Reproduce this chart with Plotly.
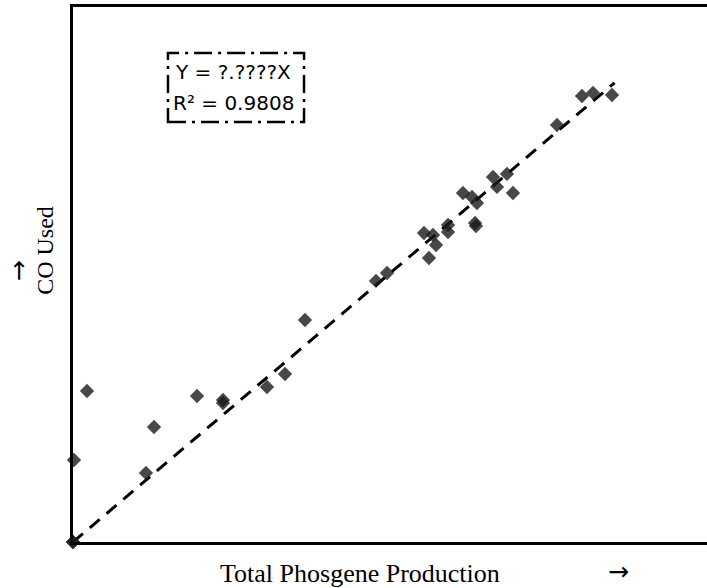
import numpy as np
import plotly.graph_objects as go

# Total phosgene production (x) vs CO used (y), arbitrary units
phosgene = [0.0, 0.0, 0.16, 2.21, 11.51, 12.78, 19.56, 23.66, 23.66, 30.60, 33.44,
            36.59, 47.79, 49.53, 55.36, 56.15, 56.78, 57.26, 59.15, 59.15, 61.51,
            62.93, 63.72, 63.41, 63.56, 66.25, 66.88, 68.45, 69.40, 76.34, 80.28,
            82.02, 85.02]
co_used = [0.0, 0.0, 15.33, 28.22, 12.90, 21.50, 27.29, 26.54, 25.98, 28.97, 31.40,
           41.50, 48.79, 50.28, 57.76, 53.08, 57.38, 55.51, 59.25, 57.94, 65.23,
           64.49, 63.36, 59.63, 59.07, 68.22, 66.36, 68.79, 65.23, 77.94, 83.36,
           83.93, 83.55]

eq_text = "Y = ?.????X"
r2_text = "R² = 0.9808"

x = np.array(phosgene)
y = np.array(co_used)
# least-squares slope of a line through the origin
slope = float((x * y).sum() / (x * x).sum())
line_x = [0.0, x.max() + 0.4]
line_y = [slope * v for v in line_x]

fig = go.Figure()
fig.add_trace(go.Scatter(
    x=line_x, y=line_y, mode="lines",
    line=dict(color="black", width=3, dash="13px,9px"),
    hoverinfo="skip", showlegend=False, cliponaxis=False,
))
fig.add_trace(go.Scatter(
    x=phosgene, y=co_used, mode="markers",
    marker=dict(symbol="diamond", size=11, color="#1a1a1a", opacity=0.8,
                line=dict(width=0)),
    showlegend=False, cliponaxis=False,
))

serif = "Liberation Serif"
arrow_font = "DejaVu Sans"
label_font = "DejaVu Sans"

fig.update_layout(
    width=707, height=588,
    margin=dict(l=73, r=0, t=7, b=46),
    paper_bgcolor="white", plot_bgcolor="white",
    xaxis=dict(range=[0, 100], showgrid=False, zeroline=False, showticklabels=False,
               ticks="", showline=True, linecolor="black", linewidth=3, mirror=True),
    yaxis=dict(range=[0, 100], showgrid=False, zeroline=False, showticklabels=False,
               ticks="", showline=True, linecolor="black", linewidth=3, mirror=False),
    shapes=[dict(type="rect", xref="paper", yref="paper",
                 x0=0.1498, x1=0.3644, y0=0.785, y1=0.914,
                 line=dict(color="black", width=2.5, dash="18px,6px,3px,6px"))],
    annotations=[
        dict(text=eq_text, xref="paper", yref="paper", x=0.158, y=0.8785,
             xanchor="left", yanchor="middle", showarrow=False,
             font=dict(family=label_font, size=20, color="black")),
        dict(text=r2_text, xref="paper", yref="paper", x=0.154, y=0.8206,
             xanchor="left", yanchor="middle", showarrow=False,
             font=dict(family=label_font, size=20, color="black")),
        dict(text="Total Phosgene Production", xref="paper", yref="paper",
             x=0.4530, y=-0.058, xanchor="center", yanchor="middle", showarrow=False,
             font=dict(family=serif, size=26, color="black")),
        dict(text="→", xref="paper", yref="paper",
             x=0.8600, y=-0.056, xanchor="center", yanchor="middle", showarrow=False,
             font=dict(family=arrow_font, size=25, color="black")),
        dict(text="CO Used", xref="paper", yref="paper", textangle=-90,
             x=-0.0442, y=0.546, xanchor="center", yanchor="middle", showarrow=False,
             font=dict(family=serif, size=24, color="black")),
        dict(text="→", xref="paper", yref="paper", textangle=-90,
             x=-0.0868, y=0.508, xanchor="center", yanchor="middle", showarrow=False,
             font=dict(family=arrow_font, size=25, color="black")),
    ],
)

fig.write_html("out.html")
